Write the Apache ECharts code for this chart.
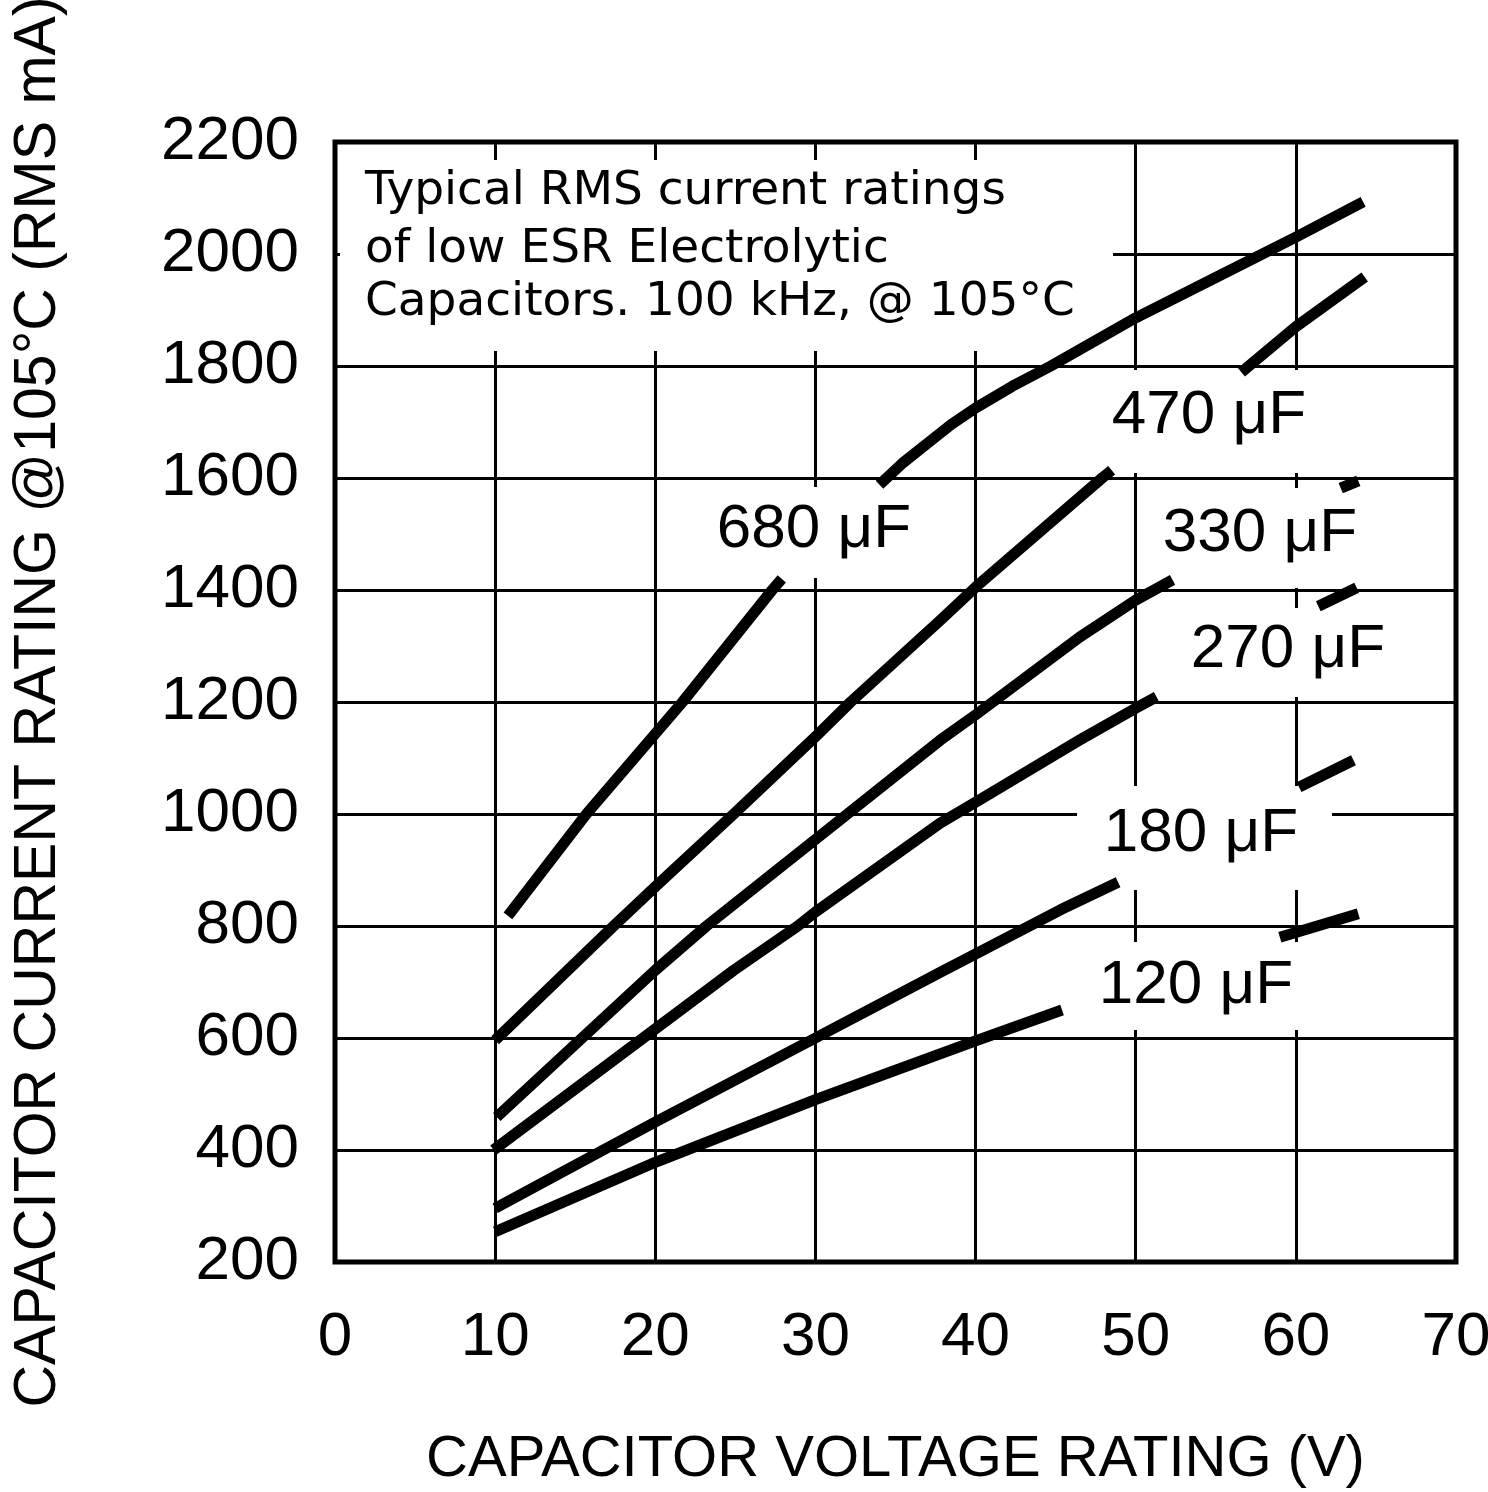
<!DOCTYPE html>
<html>
<head>
<meta charset="utf-8">
<script src="https://cdn.jsdelivr.net/npm/echarts@6/dist/echarts.min.js"></script>
<style>
html,body{margin:0;padding:0;background:#fff;}
#chart{width:1488px;height:1492px;}
</style>
</head>
<body>
<div id="chart"></div>
<script>
// ---- data (voltage V, current mA) ----
const c680a = [[10.8,818],[15.7,1000],[21.7,1200],[24.5,1300],[27.3,1400],[27.9,1420]];
const c680b = [[34.0,1588],[35.5,1628],[37.0,1662],[38.5,1696],[40,1725],[42.3,1764],[44.7,1800],[50,1886],[55,1958],[60,2030],[64.2,2093]];
const c470a = [[10,596],[17.4,800],[20,870],[24.9,1000],[30,1138],[32.2,1200],[37.8,1346],[40,1405],[47.9,1600],[48.5,1614]];
const c470b = [[56.6,1789],[60,1870],[64.3,1959]];
const c330a = [[10.1,459],[20,721],[23.2,800],[32,1000],[37.8,1132],[40,1177],[46.5,1316],[50,1382],[52.3,1418]];
const c330b = [[62.8,1582],[63.9,1595]];
const c270a = [[9.9,400],[24.9,721],[28.9,800],[30,825],[37.8,984],[40,1021],[46.5,1132],[50,1189],[51.3,1209]];
const c270b = [[61.4,1371],[63.8,1404]];
const c180a = [[10,296],[20,450],[30,600],[37.7,716],[45.3,829],[48.9,878]];
const c180b = [[60.2,1048],[63.6,1096]];
const c120a = [[10,254],[20,378],[30,490],[40,595],[45.4,650]];
const c120b = [[59.0,780],[63.9,822]];

const curveNames = ['680 μF','470 μF','330 μF','270 μF','180 μF','120 μF'];
const noteLines = ['Typical RMS current ratings','of low ESR Electrolytic','Capacitors. 100 kHz, @ 105°C'];
const xTitle = 'CAPACITOR VOLTAGE RATING (V)';
const yTitle = 'CAPACITOR CURRENT RATING @105°C (RMS mA)';

const segments = [
  [curveNames[0], c680a], [curveNames[0], c680b],
  [curveNames[1], c470a], [curveNames[1], c470b],
  [curveNames[2], c330a], [curveNames[2], c330b],
  [curveNames[3], c270a], [curveNames[3], c270b],
  [curveNames[4], c180a], [curveNames[4], c180b],
  [curveNames[5], c120a], [curveNames[5], c120b]
];

const FONT_NUM = '"Liberation Sans", Arial, sans-serif';
const FONT_NOTE = '"DejaVu Sans", sans-serif';

const series = segments.map(([name, data]) => ({
  name: name,
  type: 'line',
  data: data,
  symbol: 'none',
  smooth: false,
  z: 3,
  silent: true,
  lineStyle: { color: '#000', width: 11, cap: 'butt', join: 'round' }
}));

// white masks that hide grid lines behind the annotations
const masks = [
  [340, 160, 773, 191],
  [695, 487, 240, 91],
  [1090, 370, 240, 103],
  [1145, 488, 240, 100],
  [1170, 608, 240, 89],
  [1077, 786, 255, 104],
  [1075, 942, 255, 88]
].map(r => ({
  type: 'rect', z: 1, silent: true,
  shape: { x: r[0], y: r[1], width: r[2], height: r[3] },
  style: { fill: '#fff', stroke: null }
}));

const labelPos = [[814, 529.5],[1209, 415.5],[1260, 533.5],[1288, 650],[1201, 833.5],[1196, 985.5]];
const labelTexts = curveNames.map((t, i) => ({
  type: 'text', z: 5, silent: true,
  x: labelPos[i][0], y: labelPos[i][1],
  style: { text: t, fill: '#000', font: 'normal 62px ' + FONT_NUM, textAlign: 'center', textVerticalAlign: 'middle' }
}));

const noteY = [191.5, 250, 302.5];
const noteTexts = noteLines.map((t, i) => ({
  type: 'text', z: 5, silent: true,
  x: 365, y: noteY[i],
  style: { text: t, fill: '#000', font: 'normal 47px ' + FONT_NOTE, textAlign: 'left', textVerticalAlign: 'middle' }
}));

const chart = echarts.init(document.getElementById('chart'), null, { renderer: 'canvas' });
chart.setOption({
  animation: false,
  backgroundColor: '#fff',
  grid: { left: 335, right: 32, top: 142, bottom: 230, show: true, borderColor: '#000', borderWidth: 5,
          backgroundColor: 'transparent', containLabel: false, outerBoundsMode: 'none' },
  xAxis: {
    type: 'value', min: 0, max: 70, interval: 10,
    axisLine: { show: false }, axisTick: { show: false },
    splitLine: { show: true, lineStyle: { color: '#000', width: 3 } },
    axisLabel: { margin: 45, fontSize: 62, fontFamily: FONT_NUM, color: '#000', formatter: v => String(v) },
    name: xTitle, nameLocation: 'middle', nameGap: 169,
    nameTextStyle: { fontSize: 58, fontFamily: FONT_NUM, color: '#000' }
  },
  yAxis: {
    type: 'value', min: 200, max: 2200, interval: 200,
    axisLine: { show: false }, axisTick: { show: false },
    splitLine: { show: true, lineStyle: { color: '#000', width: 3 } },
    axisLabel: { margin: 36, fontSize: 62, fontFamily: FONT_NUM, color: '#000', formatter: v => String(v) },
    name: yTitle, nameLocation: 'middle', nameGap: 267,
    nameTextStyle: { fontSize: 59, fontFamily: FONT_NUM, color: '#000' }
  },
  series: series,
  graphic: { elements: masks.concat(labelTexts, noteTexts) }
});
</script>
</body>
</html>
